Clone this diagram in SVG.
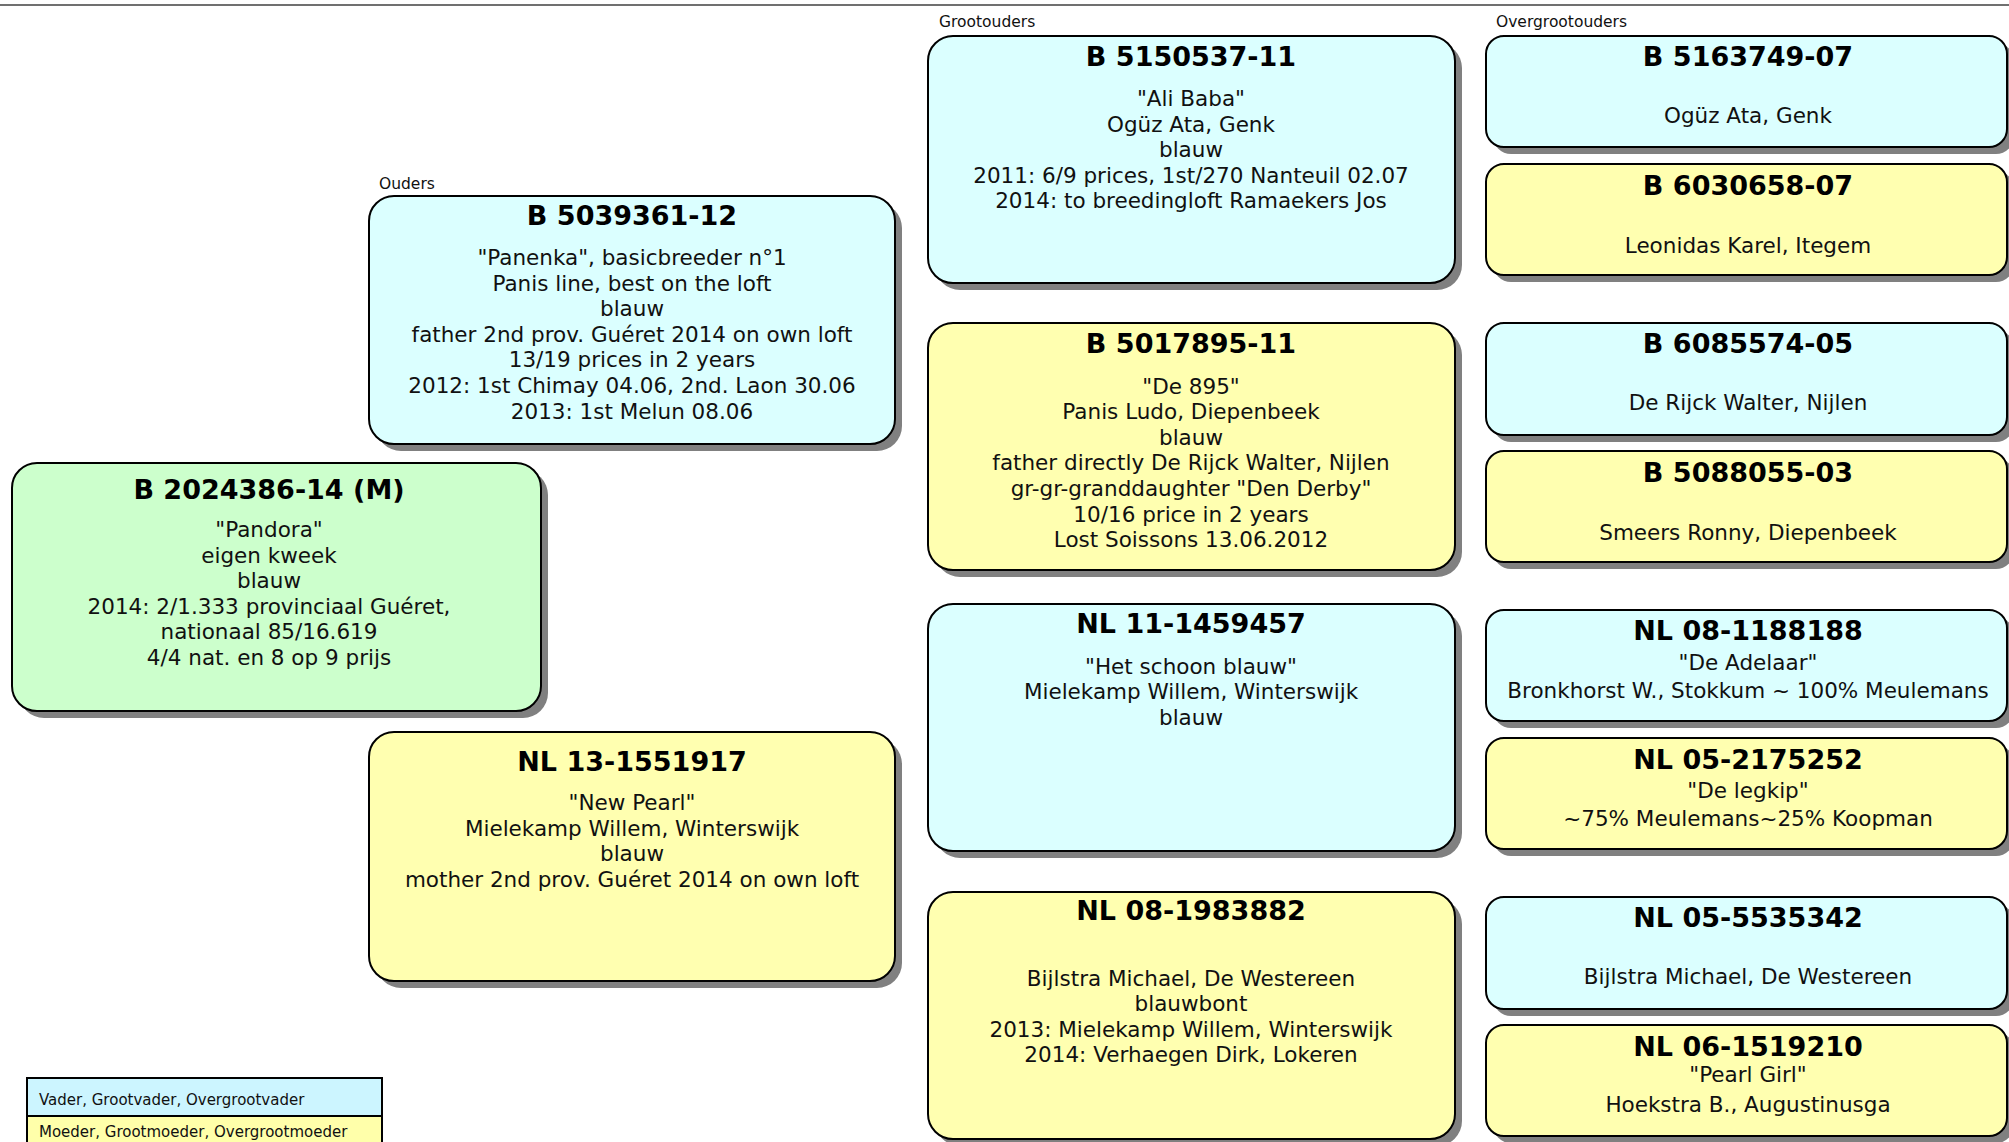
<svg xmlns="http://www.w3.org/2000/svg" width="2009" height="1142" viewBox="0 0 2009 1142">
<style>
.bg{fill:#ffffff}
.sh{fill:#808080}
.box{stroke:#000;stroke-width:2}
.blue{fill:#dbffff}
.yel{fill:#ffffb0}
.grn{fill:#ccffcc}
.t{font-family:'DejaVu Sans',Verdana,sans-serif;font-weight:bold;font-size:27px;text-anchor:middle;fill:#000}
.b{font-family:'DejaVu Sans',Verdana,sans-serif;font-size:21.5px;text-anchor:middle;fill:#111}
.lbl{font-family:'DejaVu Sans',Verdana,sans-serif;font-size:15.5px;fill:#111}
.leg{font-family:'DejaVu Sans',Verdana,sans-serif;font-size:15px;fill:#111}
</style>
<rect class="bg" x="0" y="0" width="2009" height="1142"/>
<line x1="0" y1="5" x2="2009" y2="5" stroke="#707070" stroke-width="2"/>
<text class="lbl" x="379" y="189">Ouders</text>
<text class="lbl" x="939" y="27">Grootouders</text>
<text class="lbl" x="1496" y="27">Overgrootouders</text>
<g id="connectors"></g>

<g id="subject">
<rect class="sh" x="19" y="470" width="529" height="248" rx="25"/>
<rect class="box grn" x="12" y="463" width="529" height="248" rx="25"/>
<text class="t" x="269" y="499">B 2024386-14 (M)</text>
<text class="b" x="269" y="537">"Pandora"</text>
<text class="b" x="269" y="562.6">eigen kweek</text>
<text class="b" x="269" y="588.2">blauw</text>
<text class="b" x="269" y="613.8">2014: 2/1.333 provinciaal Guéret,</text>
<text class="b" x="269" y="639.4">nationaal 85/16.619</text>
<text class="b" x="269" y="665">4/4 nat. en 8 op 9 prijs</text>
</g>

<g id="sire">
<rect class="sh" x="376" y="203" width="526" height="248" rx="25"/>
<rect class="box blue" x="369" y="196" width="526" height="248" rx="25"/>
<text class="t" x="632" y="225">B 5039361-12</text>
<text class="b" x="632" y="265">"Panenka", basicbreeder n°1</text>
<text class="b" x="632" y="290.6">Panis line, best on the loft</text>
<text class="b" x="632" y="316.2">blauw</text>
<text class="b" x="632" y="341.8">father 2nd prov. Guéret 2014 on own loft</text>
<text class="b" x="632" y="367.4">13/19 prices in 2 years</text>
<text class="b" x="632" y="393">2012: 1st Chimay 04.06, 2nd. Laon 30.06</text>
<text class="b" x="632" y="418.6">2013: 1st Melun 08.06</text>
</g>

<g id="dam">
<rect class="sh" x="376" y="739" width="526" height="249" rx="25"/>
<rect class="box yel" x="369" y="732" width="526" height="249" rx="25"/>
<text class="t" x="632" y="771">NL 13-1551917</text>
<text class="b" x="632" y="810">"New Pearl"</text>
<text class="b" x="632" y="835.6">Mielekamp Willem, Winterswijk</text>
<text class="b" x="632" y="861.2">blauw</text>
<text class="b" x="632" y="886.8">mother 2nd prov. Guéret 2014 on own loft</text>
</g>

<g id="gp1">
<rect class="sh" x="935" y="43" width="527" height="247" rx="25"/>
<rect class="box blue" x="928" y="36" width="527" height="247" rx="25"/>
<text class="t" x="1191" y="66">B 5150537-11</text>
<text class="b" x="1191" y="106">"Ali Baba"</text>
<text class="b" x="1191" y="131.6">Ogüz Ata, Genk</text>
<text class="b" x="1191" y="157.2">blauw</text>
<text class="b" x="1191" y="182.8">2011: 6/9 prices, 1st/270 Nanteuil 02.07</text>
<text class="b" x="1191" y="208.4">2014: to breedingloft Ramaekers Jos</text>
</g>

<g id="gp2">
<rect class="sh" x="935" y="330" width="527" height="247" rx="25"/>
<rect class="box yel" x="928" y="323" width="527" height="247" rx="25"/>
<text class="t" x="1191" y="353">B 5017895-11</text>
<text class="b" x="1191" y="393.5">"De 895"</text>
<text class="b" x="1191" y="419.1">Panis Ludo, Diepenbeek</text>
<text class="b" x="1191" y="444.7">blauw</text>
<text class="b" x="1191" y="470.3">father directly De Rijck Walter, Nijlen</text>
<text class="b" x="1191" y="495.9">gr-gr-granddaughter "Den Derby"</text>
<text class="b" x="1191" y="521.5">10/16 price in 2 years</text>
<text class="b" x="1191" y="547.1">Lost Soissons 13.06.2012</text>
</g>

<g id="gp3">
<rect class="sh" x="935" y="611" width="527" height="247" rx="25"/>
<rect class="box blue" x="928" y="604" width="527" height="247" rx="25"/>
<text class="t" x="1191" y="633">NL 11-1459457</text>
<text class="b" x="1191" y="673.5">"Het schoon blauw"</text>
<text class="b" x="1191" y="699.1">Mielekamp Willem, Winterswijk</text>
<text class="b" x="1191" y="724.7">blauw</text>
</g>

<g id="gp4">
<rect class="sh" x="935" y="899" width="527" height="247" rx="25"/>
<rect class="box yel" x="928" y="892" width="527" height="247" rx="25"/>
<text class="t" x="1191" y="920">NL 08-1983882</text>
<text class="b" x="1191" y="985.5">Bijlstra Michael, De Westereen</text>
<text class="b" x="1191" y="1011.1">blauwbont</text>
<text class="b" x="1191" y="1036.7">2013: Mielekamp Willem, Winterswijk</text>
<text class="b" x="1191" y="1062.3">2014: Verhaegen Dirk, Lokeren</text>
</g>

<g id="ggp1">
<rect class="sh" x="1493" y="43" width="521" height="111" rx="18"/>
<rect class="box blue" x="1486" y="36" width="521" height="111" rx="18"/>
<text class="t" x="1748" y="66">B 5163749-07</text>
<text class="b" x="1748" y="123">Ogüz Ata, Genk</text>
</g>

<g id="ggp2">
<rect class="sh" x="1493" y="171" width="521" height="111" rx="18"/>
<rect class="box yel" x="1486" y="164" width="521" height="111" rx="18"/>
<text class="t" x="1748" y="194.5">B 6030658-07</text>
<text class="b" x="1748" y="252.5">Leonidas Karel, Itegem</text>
</g>

<g id="ggp3">
<rect class="sh" x="1493" y="330" width="521" height="112" rx="18"/>
<rect class="box blue" x="1486" y="323" width="521" height="112" rx="18"/>
<text class="t" x="1748" y="353">B 6085574-05</text>
<text class="b" x="1748" y="410">De Rijck Walter, Nijlen</text>
</g>

<g id="ggp4">
<rect class="sh" x="1493" y="458" width="521" height="111" rx="18"/>
<rect class="box yel" x="1486" y="451" width="521" height="111" rx="18"/>
<text class="t" x="1748" y="481.5">B 5088055-03</text>
<text class="b" x="1748" y="539.5">Smeers Ronny, Diepenbeek</text>
</g>

<g id="ggp5">
<rect class="sh" x="1493" y="617" width="521" height="111" rx="18"/>
<rect class="box blue" x="1486" y="610" width="521" height="111" rx="18"/>
<text class="t" x="1748" y="640">NL 08-1188188</text>
<text class="b" x="1748" y="669.5">"De Adelaar"</text>
<text class="b" x="1748" y="698">Bronkhorst W., Stokkum ~ 100% Meulemans</text>
</g>

<g id="ggp6">
<rect class="sh" x="1493" y="745" width="521" height="111" rx="18"/>
<rect class="box yel" x="1486" y="738" width="521" height="111" rx="18"/>
<text class="t" x="1748" y="768.5">NL 05-2175252</text>
<text class="b" x="1748" y="798">"De legkip"</text>
<text class="b" x="1748" y="826">~75% Meulemans~25% Koopman</text>
</g>

<g id="ggp7">
<rect class="sh" x="1493" y="904" width="521" height="112" rx="18"/>
<rect class="box blue" x="1486" y="897" width="521" height="112" rx="18"/>
<text class="t" x="1748" y="927">NL 05-5535342</text>
<text class="b" x="1748" y="984">Bijlstra Michael, De Westereen</text>
</g>

<g id="ggp8">
<rect class="sh" x="1493" y="1032" width="521" height="111" rx="18"/>
<rect class="box yel" x="1486" y="1025" width="521" height="111" rx="18"/>
<text class="t" x="1748" y="1055.5">NL 06-1519210</text>
<text class="b" x="1748" y="1082">"Pearl Girl"</text>
<text class="b" x="1748" y="1112">Hoekstra B., Augustinusga</text>
</g>

<g id="legend">
<rect x="27" y="1078" width="355" height="38" fill="#ccf5ff" stroke="#000" stroke-width="2"/>
<rect x="27" y="1116" width="355" height="40" fill="#ffffaa" stroke="#000" stroke-width="2"/>
<text class="leg" x="39" y="1105">Vader, Grootvader, Overgrootvader</text>
<text class="leg" x="39" y="1137">Moeder, Grootmoeder, Overgrootmoeder</text>
</g>
</svg>
